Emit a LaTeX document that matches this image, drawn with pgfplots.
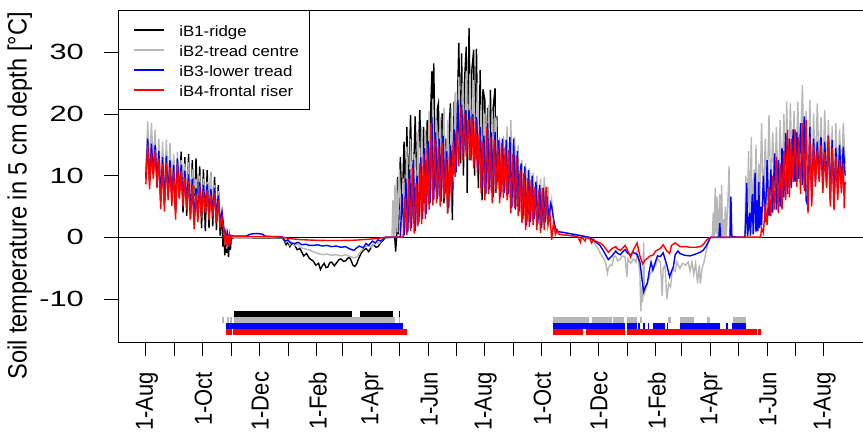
\documentclass[border=0pt]{standalone}
\usepackage{pgfplots}
\pgfplotsset{compat=1.18}
\usepackage{fontspec}
\setmainfont{Liberation Sans}
\definecolor{rgray}{RGB}{183,183,183}
\newcommand{\xl}[1]{\scalebox{1.12}[1]{\rotatebox{90}{#1}}}
\newcommand{\sx}[1]{\scalebox{1.12}[1]{#1}}
\newcommand{\sy}[1]{\scalebox{1.4}[1]{#1}}
\begin{document}
\begin{tikzpicture}
\useasboundingbox (0,0) rectangle (863pt,435pt);
\begin{axis}[
  at={(118pt,93pt)}, anchor=south west,
  width=755pt, height=332pt, scale only axis,
  xmin=-30, xmax=783, ymin=-16.95, ymax=36.85,
  axis line style={line width=0.8pt},
  xtick={0,31,61,92,122,153,184,212,243,273,304,334,365,396,426,457,487,518,549,577,608,638,669,699,730},
  xticklabels={\xl{1-Aug},,\xl{1-Oct},,\xl{1-Dec},,\xl{1-Feb},,\xl{1-Apr},,\xl{1-Jun},,\xl{1-Aug},,\xl{1-Oct},,\xl{1-Dec},,\xl{1-Feb},,\xl{1-Apr},,\xl{1-Jun},,\xl{1-Aug}},
  ytick={-10,0,10,20,30},
  yticklabels={\sy{-10},\sy{0},\sy{10},\sy{20},\sy{30}},
  tick align=outside, xtick pos=left, ytick pos=left,
  major tick length=14pt,
  tick style={line width=0.8pt, black},
  ticklabel style={font=\fontsize{22}{26}\selectfont},
  xticklabel style={anchor=north, inner sep=0pt, yshift=-15.7pt, xshift=1pt},
  yticklabel style={anchor=east, inner sep=0pt, xshift=-20pt},
  every axis y label/.style={at={(axis description cs:-0.13,0.44)}, anchor=center},
  ylabel={\fontsize{23.6}{28}\selectfont\scalebox{1.12}[1]{\rotatebox{90}{Soil temperature in 5 cm depth [°C]}}},
  clip=true,
  unbounded coords=jump,
  legend style={at={(0,1)}, anchor=north west, draw=black, line width=0.8pt,
    font=\fontsize{15}{18}\selectfont, inner xsep=10pt, inner ysep=12.3pt,
    row sep=4.8pt, column sep=14pt, cells={anchor=west},
    nodes={inner sep=0pt, text height=14pt, text depth=1pt}},
  legend cell align=left,
  legend image code/.code={\draw[#1, line width=2pt] (0pt,0pt) ++(5pt,0pt) -- ++(30pt,0pt);},
]
\addplot[black, line width=0.8pt, forget plot] coordinates {(-30,0) (783,0)};

% iB1 ridge
\addplot[black, line width=1.4pt] coordinates {
(0,10.0)(2,16.5)(4,10.0)(6,16.0)(8,11.0)(10,15.0)(12,9.0)(14,14.0)(16,6.0)(18,13.5)(20,5.5)(22,14.0)(24,7.5)(26,13.0)(28,6.0)(30,12.5)(32,4.0)(34,12.5)(36,6.5)(38,13.9)(40,4.0)(42,13.0)(44,3.5)(46,13.5)(48,3.0)(50,12.5)(52,2.5)(54,12.8)(56,3.9)(58,11.5)(60,1.5)(62,11.0)(64,1.0)(66,10.9)(68,1.5)(70,10.5)(72,1.8)(74,9.8)(76,1.2)(78,8.5)(80,0.3)(82,4.0)(83,-1.5)(84,0.5)(85,-2.9)(86,0.2)(87,-2.5)(88,-0.5)(89,-3.2)(90,-0.3)(91,-2.0)(92,-0.2)(94,-0.05)
(100,-0.05)(147,-0.1)(149,-0.5)(151,-1.2)(153,-0.8)(155,-1.5)(157,-1.0)(160,-1.2)(163,-2.0)(166,-1.8)(170,-3.0)(173,-2.6)(176,-3.4)(180,-3.8)(183,-4.5)(186,-4.2)(188,-5.2)(190,-4.6)(192,-4.2)(194,-4.9)(196,-4.8)(198,-4.1)(200,-4.0)(203,-4.6)(205,-4.2)(208,-3.6)(210,-3.5)(213,-3.9)(215,-3.8)(218,-3.3)(220,-3.4)(223,-4.5)(225,-4.7)(227,-4.3)(229,-3.5)(232,-2.5)(235,-2.0)(237,-1.8)(240,-2.3)(243,-1.5)(245,-1.2)(248,-1.6)(250,-1.5)(253,-0.8)(255,-0.6)(258,0.0)(268,0.0)(269,-2.3)(270,0.0)
(271,9.8)(272,0.5)(274,13.0)(276,4.5)(278,15.5)(280,5.0)(281,17.9)(283,6.0)(285,19.8)(287,6.6)(289,14.0)(290,19.6)(292,7.5)(294,16.0)(295,20.6)(297,8.0)(299,17.9)(301,8.2)(303,19.0)(305,9.0)(307,22.0)(308,26.9)(309,9.5)(310,28.2)(312,8.2)(314,21.0)(315,21.7)(317,6.6)(319,20.1)(321,5.5)(323,16.0)(325,3.9)(327,19.0)(328,21.7)(330,2.8)(332,22.0)(334,12.0)(336,25.0)(337,31.5)(339,12.0)(340,29.8)(342,10.0)(343,25.0)(345,30.9)(346,7.2)(348,33.9)(350,12.5)(351,27.0)(353,30.4)(354,10.0)(356,30.6)(358,8.0)(360,27.1)(362,6.0)(363,24.0)(365,22.3)(366,7.2)(368,21.0)(370,8.2)(371,23.9)(373,9.0)(374,21.0)(376,24.2)(377,7.2)(378,19.6)(379,9.0)(380,14.0)
};
\addlegendentry{\sx{iB1-ridge}}

% iB2 tread centre
\addplot[rgray, line width=1.4pt] coordinates {
(0,10.5)(2,18.8)(4,10.8)(6,18.6)(8,12.0)(10,17.4)(12,9.5)(14,16.0)(16,7.0)(18,15.5)(20,6.5)(22,15.8)(24,8.0)(26,15.3)(28,7.0)(30,13.5)(32,5.0)(34,13.8)(36,7.5)(38,12.5)(40,6.5)(42,12.0)(44,6.0)(46,12.2)(48,4.5)(50,11.0)(52,3.0)(54,9.5)(56,4.0)(58,10.0)(60,4.5)(62,9.5)(64,5.5)(66,9.0)(68,4.0)(70,10.5)(72,4.5)(74,8.5)(76,3.5)(78,7.5)(80,2.5)(82,4.5)(84,1.0)(85,-0.5)(86,0.5)(87,-1.8)(88,0.3)(89,-1.5)(90,0.2)(92,0.1)(94,0.0)
(100,0.0)(147,0.0)(149,-0.4)(151,-0.8)(153,-0.5)(155,-1.2)(157,-0.8)(160,-1.4)(163,-1.0)(166,-1.6)(170,-1.8)(175,-2.0)(180,-2.3)(185,-2.6)(190,-2.8)(195,-2.7)(200,-2.9)(205,-2.8)(210,-3.0)(215,-2.8)(220,-3.1)(224,-3.3)(227,-3.2)(230,-2.6)(233,-2.0)(236,-1.6)(240,-1.3)(243,-1.6)(245,-1.2)(248,-0.8)(251,-1.0)(254,-0.5)(258,0.0)(264,0.0)
(265,0.0)(266,6.0)(267,0.2)(268,8.5)(269,0.5)(270,9.5)(271,0.8)(273,11.0)(275,1.5)(277,9.5)(279,0.8)(281,14.7)(283,1.5)(285,16.0)(287,3.0)(289,13.5)(291,2.0)(293,17.0)(295,4.0)(297,18.0)(299,5.5)(301,17.5)(303,6.5)(305,20.5)(307,7.0)(309,22.5)(311,8.0)(313,19.0)(315,7.0)(317,19.5)(319,8.0)(321,21.0)(323,7.0)(325,19.0)(327,5.0)(329,21.0)(331,9.0)(333,23.5)(335,12.0)(337,26.0)(339,14.0)(341,25.0)(343,14.5)(345,27.0)(347,14.5)(349,26.5)(351,13.5)(353,25.5)(355,12.0)(357,25.0)(359,11.0)(361,21.5)(363,8.0)(365,20.0)(367,7.0)(369,21.5)(371,7.5)(373,20.5)(375,7.0)(377,19.5)(379,9.0)(381,16.3)(383,7.0)(385,16.5)(387,7.5)(389,18.0)(391,6.5)(393,19.0)(395,5.0)(397,16.3)(399,5.0)(401,15.0)(403,4.0)(405,12.5)(407,3.5)(409,12.0)(411,2.5)(413,11.2)(415,3.0)(417,10.5)(419,3.5)(421,10.0)(423,2.8)(425,9.5)(427,2.0)(429,9.8)(431,3.0)(433,8.2)(435,3.5)(437,6.0)(439,2.5)(441,1.2)(443,0.6)(445,0.5)
(450,0.5)(460,0.2)(478,0.0)(482,-0.6)(484,-1.2)(487,-1.8)(489,-2.5)(492,-3.2)(495,-4.0)(497,-5.8)(498,-5.0)(500,-4.5)(502,-4.5)(504,-3.2)(506,-3.0)(508,-3.8)(511,-3.5)(513,-3.0)(516,-3.2)(518,-6.4)(519,-3.5)(522,-4.2)(525,-3.5)(528,-4.0)(529,-2.0)(531,-4.5)(532,-6.0)(533,-12.0)(534,-8.0)(535,-10.5)(536,-0.8)(537,-9.0)(539,-8.0)(541,-7.0)(543,-6.0)(546,-5.0)(549,-4.5)(551,-3.5)(554,-4.0)(556,-9.5)(557,-5.0)(559,-4.5)(561,-10.0)(563,-7.5)(565,-8.0)(567,-5.0)(570,-5.5)(572,-4.0)(575,-5.0)(578,-4.2)(581,-4.5)(584,-4.0)(586,-5.5)(588,-4.0)(590,-6.0)(592,-4.2)(594,-7.4)(596,-4.5)(597,-7.5)(599,-5.0)(601,-4.0)(603,-2.5)(605,-1.2)(607,-0.3)(608,0.0)
(610,0.3)(611,4.0)(612,0.0)(613,8.0)(614,0.5)(615,6.6)(616,0.0)(618,7.0)(619,0.0)(620,8.5)(621,0.3)(622,3.0)(623,0.0)(624,5.0)(625,0.0)(627,7.0)(628,11.5)(629,0.0)(630,3.0)(631,0.0)(645,0.0)(646,10.0)(647,0.5)(649,14.0)(650,1.0)(652,16.3)(653,2.0)(655,11.0)(656,1.0)(657,15.0)(658,3.0)(660,12.0)(661,4.0)(663,18.5)(665,5.0)(667,16.0)(669,6.0)(671,19.8)(673,7.0)(675,17.0)(677,8.0)(679,17.9)(681,6.5)(683,19.0)(685,7.5)(687,20.0)(689,8.0)(690,22.0)(692,9.0)(694,21.7)(696,10.0)(698,20.5)(700,9.5)(702,22.0)(704,10.0)(707,24.7)(709,9.0)(711,20.5)(713,7.0)(715,22.3)(717,8.0)(719,20.0)(721,10.0)(723,21.7)(725,11.0)(727,19.5)(729,9.5)(731,20.6)(733,10.0)(735,19.0)(737,8.0)(739,18.0)(741,7.0)(743,18.5)(745,8.5)(747,17.5)(749,9.5)(751,18.5)(753,12.0)
};
\addlegendentry{\sx{iB2-tread centre}}

% iB3 lower tread
\addplot[blue, line width=1.4pt] coordinates {
(0,9.5)(2,16.0)(4,9.0)(6,15.2)(8,10.5)(10,15.0)(12,9.0)(14,14.0)(16,6.0)(18,13.0)(20,5.5)(22,13.2)(24,7.0)(26,12.5)(28,6.5)(30,11.8)(32,4.5)(34,12.8)(36,7.0)(38,11.8)(40,6.0)(42,10.8)(44,5.5)(46,10.2)(48,4.0)(50,9.5)(52,2.5)(54,8.0)(56,3.5)(58,9.0)(60,4.0)(62,8.5)(64,5.0)(66,8.6)(68,3.8)(70,7.8)(72,4.2)(74,8.0)(76,3.3)(78,6.8)(80,2.5)(82,4.2)(84,1.5)(85,0.0)(86,0.8)(87,-1.0)(88,0.5)(89,-0.8)(90,0.4)(92,0.3)(94,0.2)
(100,0.2)(108,0.2)(112,0.5)(116,0.6)(122,0.6)(126,0.5)(128,0.2)(135,0.15)(147,0.1)(150,-0.6)(153,-0.4)(156,-0.9)(160,-1.0)(164,-0.8)(168,-1.2)(172,-1.1)(176,-1.3)(180,-1.3)(185,-1.2)(190,-1.4)(195,-1.3)(200,-1.5)(205,-1.4)(210,-1.6)(215,-1.5)(220,-1.9)(224,-2.1)(227,-1.7)(230,-1.4)(234,-1.7)(237,-1.0)(240,-1.3)(244,-0.6)(247,-0.9)(250,-0.4)(253,-0.6)(256,-0.2)(258,0.0)(272,0.05)
(274,0.1)(276,7.0)(278,0.3)(280,9.5)(282,0.8)(284,11.0)(286,1.5)(288,12.5)(290,1.0)(292,10.0)(294,2.5)(296,13.0)(298,3.0)(300,14.5)(302,3.8)(304,15.6)(306,5.5)(308,19.5)(310,6.0)(312,17.0)(314,6.2)(316,16.0)(318,5.8)(320,16.5)(322,7.0)(324,14.0)(326,4.8)(328,15.0)(330,7.5)(332,17.5)(334,10.5)(336,22.3)(338,13.0)(340,21.5)(342,13.5)(344,20.6)(346,13.8)(348,20.6)(350,13.0)(352,20.0)(354,12.0)(356,19.5)(358,11.0)(360,17.9)(362,8.0)(364,16.5)(366,7.0)(368,18.5)(370,7.8)(372,17.0)(374,6.5)(376,17.1)(378,8.5)(380,15.8)(382,6.5)(384,16.0)(386,7.2)(388,15.8)(390,7.0)(392,16.3)(394,4.8)(396,16.0)(398,4.5)(400,14.0)(402,4.2)(404,12.0)(406,3.0)(408,11.5)(410,2.0)(412,10.9)(414,2.5)(416,10.0)(418,3.0)(420,9.0)(422,2.2)(424,8.5)(426,1.5)(428,8.0)(430,2.5)(432,6.6)(434,3.0)(436,5.5)(437,5.0)(439,3.0)(441,1.5)(443,1.0)(445,0.9)
(450,0.8)(457,0.6)(468,0.3)(478,0.0)(484,-0.7)(489,-1.3)(492,-2.0)(495,-2.8)(498,-3.6)(500,-3.3)(502,-3.0)(506,-2.2)(508,-2.6)(511,-2.8)(513,-2.4)(516,-2.0)(519,-2.6)(522,-2.8)(525,-2.4)(529,-2.8)(532,-4.0)(534,-6.5)(536,-8.8)(538,-8.0)(540,-7.4)(542,-5.5)(544,-4.0)(546,-5.3)(549,-3.8)(551,-3.0)(554,-3.1)(557,-2.5)(561,-4.5)(564,-6.4)(566,-5.5)(568,-4.8)(570,-2.8)(573,-2.2)(575,-2.6)(580,-2.9)(586,-3.0)(592,-2.7)(597,-2.4)(600,-2.1)(603,-1.5)(606,-0.6)(608,0.0)
(617,0.0)(618,2.3)(619,0.0)(629,0.0)(630,6.6)(631,0.1)(645,0.0)(646,3.0)(647,8.8)(648,0.2)(650,4.0)(651,0.3)(653,7.0)(654,0.5)(656,10.4)(657,0.8)(658,6.0)(659,1.0)(660,9.0)(661,1.5)(662,5.0)(663,2.0)(665,10.0)(667,2.5)(669,12.5)(671,3.5)(673,11.0)(675,4.0)(677,13.6)(679,4.5)(681,12.5)(683,5.0)(685,14.5)(687,6.5)(689,16.9)(691,7.0)(693,16.0)(695,8.0)(697,17.5)(699,9.0)(701,17.0)(703,9.5)(705,18.5)(707,8.5)(709,19.6)(711,6.0)(713,5.0)(715,17.9)(717,6.0)(719,16.0)(721,9.0)(723,15.5)(725,9.5)(727,16.3)(729,8.0)(731,15.5)(733,8.5)(735,16.5)(737,6.0)(739,15.8)(741,5.5)(743,14.5)(745,7.0)(747,15.0)(749,8.0)(751,14.7)(753,10.0)
};
\addlegendentry{\sx{iB3-lower tread}}

% iB4 frontal riser
\addplot[red, line width=1.4pt] coordinates {
(0,8.6)(2,15.0)(4,7.8)(6,13.6)(8,9.5)(10,14.2)(12,8.0)(14,12.8)(16,4.6)(18,11.9)(20,4.2)(22,12.1)(24,6.0)(26,11.4)(28,5.1)(30,10.6)(32,2.9)(34,11.9)(36,6.2)(38,10.8)(40,5.0)(42,9.7)(44,4.5)(46,9.1)(48,2.9)(50,8.5)(52,1.3)(54,7.0)(56,2.5)(58,8.2)(60,3.1)(62,7.6)(64,4.0)(66,7.7)(68,2.8)(70,6.9)(72,3.3)(74,7.2)(76,2.4)(78,6.0)(80,1.8)(82,3.4)(84,1.0)(85,-0.4)(86,0.5)(87,-1.5)(88,0.3)(89,-1.2)(90,0.4)(91,-0.6)(92,0.2)(94,0.15)
(100,0.15)(120,0.15)(140,0.1)(148,0.0)(155,-0.2)(165,-0.35)(180,-0.45)(195,-0.5)(210,-0.5)(225,-0.45)(240,-0.3)(250,-0.15)(258,0.0)(276,0.05)
(277,0.1)(279,6.5)(281,0.4)(283,9.5)(285,1.0)(287,11.2)(289,0.6)(291,8.8)(293,1.8)(295,12.0)(297,2.2)(299,13.5)(301,3.0)(303,14.4)(305,4.5)(307,18.5)(309,5.2)(311,16.0)(313,5.5)(315,14.8)(317,5.0)(319,15.3)(321,6.2)(323,12.8)(325,3.9)(327,13.5)(329,6.5)(331,15.6)(333,9.8)(335,17.4)(337,11.5)(339,21.2)(341,12.5)(343,20.1)(345,13.0)(347,19.0)(349,12.5)(351,19.6)(353,11.2)(355,19.0)(357,10.4)(359,16.9)(361,7.2)(363,15.5)(365,6.0)(367,17.9)(369,7.0)(371,16.3)(373,5.5)(375,15.8)(377,7.7)(379,14.6)(381,5.5)(383,15.3)(385,6.4)(387,14.7)(389,6.0)(391,14.2)(393,3.9)(395,13.5)(397,4.8)(399,13.1)(401,3.4)(403,10.9)(405,2.3)(407,10.4)(409,1.2)(411,9.6)(413,1.7)(415,9.3)(417,2.0)(419,8.2)(421,1.2)(423,7.6)(425,0.7)(427,8.0)(429,1.2)(431,8.2)(433,2.0)(435,3.9)(437,-0.4)(439,2.5)(441,0.5)(443,1.2)(445,0.5)
(450,0.4)(457,0.3)(465,0.15)(468,-0.8)(469,0.1)(473,-0.6)(474,0.0)(478,-0.2)(480,-0.9)(482,-0.3)(484,-0.6)(489,-0.9)(492,-1.2)(495,-1.8)(498,-2.4)(500,-2.1)(502,-1.8)(506,-1.5)(508,-1.9)(511,-2.1)(513,-1.8)(516,-1.3)(519,-2.2)(522,-3.2)(525,-2.0)(529,-0.9)(532,-3.0)(535,-4.3)(538,-3.6)(540,-3.4)(543,-3.0)(546,-2.9)(549,-2.2)(554,-1.8)(557,-1.2)(561,-2.2)(564,-2.6)(566,-1.3)(570,-0.9)(572,-1.1)(575,-1.5)(581,-1.5)(586,-1.6)(592,-1.6)(597,-1.5)(600,-1.2)(604,-0.4)(608,0.0)
(662,0.05)(663,1.5)(665,0.7)(667,5.5)(669,2.0)(671,8.2)(673,3.4)(675,10.0)(677,4.5)(679,13.1)(681,3.9)(683,12.0)(685,4.5)(687,14.0)(689,6.0)(691,17.4)(693,6.5)(695,16.0)(697,9.0)(699,17.5)(701,8.2)(703,16.2)(705,7.0)(707,18.5)(709,7.5)(711,19.0)(713,3.9)(715,16.3)(717,5.0)(719,15.0)(721,8.2)(723,14.2)(725,9.0)(727,15.0)(729,7.2)(731,13.8)(733,8.0)(735,16.3)(737,5.0)(739,14.5)(741,4.4)(743,13.1)(745,6.0)(747,12.5)(749,7.2)(751,12.0)(752,4.7)(753,9.0)
};
\addlegendentry{\sx{iB4-frontal riser}}

% bars
\addplot[black, line width=6.2pt, forget plot] coordinates {(95.4,-12.37)(222.4,-12.37)(nan,nan)(230.7,-12.37)(265.9,-12.37)(nan,nan)(272.9,-12.37)(273.9,-12.37)};
\addplot[rgray, line width=6.2pt, forget plot] coordinates {(82.5,-13.37)(84.6,-13.37)(nan,nan)(87,-13.37)(89.5,-13.37)(nan,nan)(90.8,-13.37)(92.6,-13.37)(nan,nan)(95.4,-13.37)(268.4,-13.37)(nan,nan)(272.3,-13.37)(273.3,-13.37)
(nan,nan)(438.2,-13.37)(477.6,-13.37)(nan,nan)(480.2,-13.37)(501.7,-13.37)(nan,nan)(503.5,-13.37)(515.0,-13.37)(nan,nan)(518.5,-13.37)(529.3,-13.37)(nan,nan)(532.2,-13.37)(534.0,-13.37)(nan,nan)(562.4,-13.37)(565.3,-13.37)(nan,nan)(575.3,-13.37)(590.7,-13.37)(nan,nan)(604.0,-13.37)(607.6,-13.37)(nan,nan)(632.7,-13.37)(646.3,-13.37)};
\addplot[blue, line width=6.2pt, forget plot] coordinates {(86.5,-14.37)(276.7,-14.37)
(nan,nan)(438.2,-14.37)(516.1,-14.37)(nan,nan)(518.5,-14.37)(528.7,-14.37)(nan,nan)(530.4,-14.37)(532.2,-14.37)(nan,nan)(535.8,-14.37)(537.6,-14.37)(nan,nan)(540.5,-14.37)(542.2,-14.37)(nan,nan)(546.5,-14.37)(559.1,-14.37)(nan,nan)(561.0,-14.37)(562.7,-14.37)(nan,nan)(575.3,-14.37)(618.4,-14.37)(nan,nan)(624.8,-14.37)(627.3,-14.37)(nan,nan)(630.9,-14.37)(646.3,-14.37)};
\addplot[red, line width=6.2pt, forget plot] coordinates {(86.5,-15.37)(89,-15.37)(nan,nan)(90,-15.37)(92.5,-15.37)(nan,nan)(94,-15.37)(281,-15.37)
(nan,nan)(438.2,-15.37)(471.2,-15.37)(nan,nan)(474.1,-15.37)(516.1,-15.37)(nan,nan)(518.5,-15.37)(657.9,-15.37)(nan,nan)(659.6,-15.37)(662.2,-15.37)};
\end{axis}
\end{tikzpicture}
\end{document}
